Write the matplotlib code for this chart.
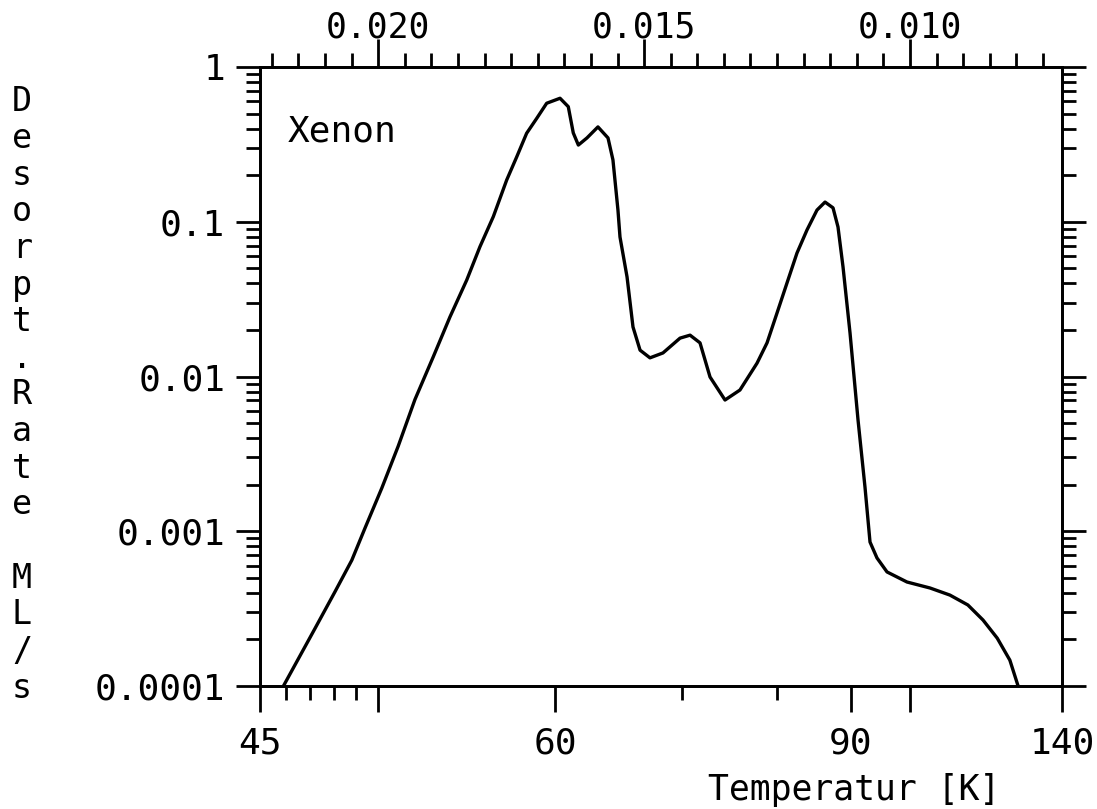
import numpy as np
import matplotlib
matplotlib.use("Agg")
import matplotlib.pyplot as plt
from matplotlib.ticker import FixedLocator, NullFormatter, LogLocator

# Xenon TDS spectrum (temperature in K, rate in ML/s)
temperature = [45.91, 47.20, 48.05, 48.79, 49.39, 50.17, 50.96, 51.79, 52.73, 53.62,
               54.54, 55.29, 56.07, 56.87, 57.49, 58.11, 58.76, 59.41, 60.31, 60.88,
               61.23, 61.59, 62.21, 63.02, 63.78, 64.16, 64.55, 64.71, 65.27, 65.75,
               66.33, 67.16, 68.28, 69.81, 70.74, 71.69, 72.67, 74.19, 75.77, 77.66,
               78.81, 79.99, 81.21, 82.47, 83.77, 85.11, 86.22, 87.35, 88.07, 88.81,
               89.86, 91.09, 92.19, 93.00, 94.15, 95.85, 99.43, 103.9, 108.1, 112.2,
               115.9, 119.6, 123.1, 125.5]
rate = [1.0e-4, 2.36e-4, 4.07e-4, 6.50e-4, 1.05e-3, 1.90e-3, 3.55e-3, 7.10e-3, 0.0134, 0.0243,
        0.0420, 0.0690, 0.108, 0.186, 0.263, 0.373, 0.466, 0.583, 0.628, 0.554,
        0.375, 0.313, 0.348, 0.410, 0.348, 0.251, 0.119, 0.0797, 0.0440, 0.0209,
        0.0148, 0.0132, 0.0142, 0.0177, 0.0185, 0.0165, 0.00993, 0.00705, 0.00818, 0.0122,
        0.0165, 0.0257, 0.0402, 0.0628, 0.0885, 0.119, 0.134, 0.123, 0.0925, 0.0510,
        0.0191, 0.00524, 0.00193, 8.52e-4, 6.72e-4, 5.46e-4, 4.70e-4, 4.30e-4, 3.87e-4, 3.34e-4,
        2.67e-4, 2.04e-4, 1.47e-4, 1.0e-4]

t_major = [45, 50, 60, 90, 100, 140]
t_major_labels = ["45", "", "60", "90", "", "140"]
t_minor = [46, 47, 48, 49, 70, 80]
inv_major = [0.020, 0.015, 0.010]
inv_major_labels = ["0.020", "0.015", "0.010"]
y_major = [1e-4, 1e-3, 1e-2, 1e-1, 1]
y_major_labels = ["0.0001", "0.001", "0.01", "0.1", "1"]

mono = "DejaVu Sans Mono"
lw = 2.0


def neg_inv(t):
    # x axis is linear in 1/T, increasing temperature to the right
    with np.errstate(divide="ignore"):
        return -1.0 / np.asarray(t, dtype=float)


fig = plt.figure(figsize=(10.97, 8.09), dpi=100)
ax = fig.add_axes([0.2370, 0.1520, 0.7311, 0.7652])

ax.plot(temperature, rate, color="black", lw=2.4,
        solid_joinstyle="round", solid_capstyle="round")

ax.set_xscale("function", functions=(neg_inv, neg_inv))
ax.set_xlim(45, 140)
ax.set_yscale("log")
ax.set_ylim(1e-4, 1)

ax.xaxis.set_major_locator(FixedLocator(t_major))
ax.set_xticklabels(t_major_labels)
ax.xaxis.set_minor_locator(FixedLocator(t_minor))
ax.xaxis.set_minor_formatter(NullFormatter())

ax.set_yticks(y_major)
ax.set_yticklabels(y_major_labels)
ax.yaxis.set_minor_locator(LogLocator(base=10, subs=np.arange(2, 10), numticks=20))
ax.yaxis.set_minor_formatter(NullFormatter())

for s in ax.spines.values():
    s.set_linewidth(lw)

ax.tick_params(which="major", direction="out", length=19, width=lw,
               right=True, labelsize=26, pad=10)
ax.tick_params(which="minor", direction="out", length=10, width=lw, right=True)
ax.tick_params(axis="y", which="major", length=17, pad=8)
for lab in ax.get_xticklabels() + ax.get_yticklabels():
    lab.set_family(mono)

# top axis: 1/T in 1/K
top = ax.twiny()
top.set_xscale("function", functions=(neg_inv, neg_inv))
top.set_xlim(45, 140)
top.set_xticks(1.0 / np.array(inv_major))
top.set_xticklabels(inv_major_labels)
top.xaxis.set_minor_locator(FixedLocator(1.0 / np.arange(0.0075, 0.02201, 0.0005)))
top.xaxis.set_minor_formatter(NullFormatter())
top.tick_params(which="major", direction="out", length=20, width=lw,
                labelsize=25, pad=-4)
top.tick_params(which="minor", direction="out", length=10, width=lw)
for s in top.spines.values():
    s.set_linewidth(lw)
for lab in top.get_xticklabels():
    lab.set_family(mono)

ax.text(0.034, 0.895, "Xenon", transform=ax.transAxes, family=mono,
        fontsize=26, ha="left", va="center")

fig.text(1000 / 1097, 1 - 790 / 809, "Temperatur [K]", family=mono,
         fontsize=25, ha="right", va="center")

fig.text(22 / 1097, 1 - 395 / 809, "\n".join("Desorpt.Rate ML/s"), family=mono,
         fontsize=24, ha="center", va="center", linespacing=1.14)

fig.savefig("out.png", dpi=100, facecolor="white")
